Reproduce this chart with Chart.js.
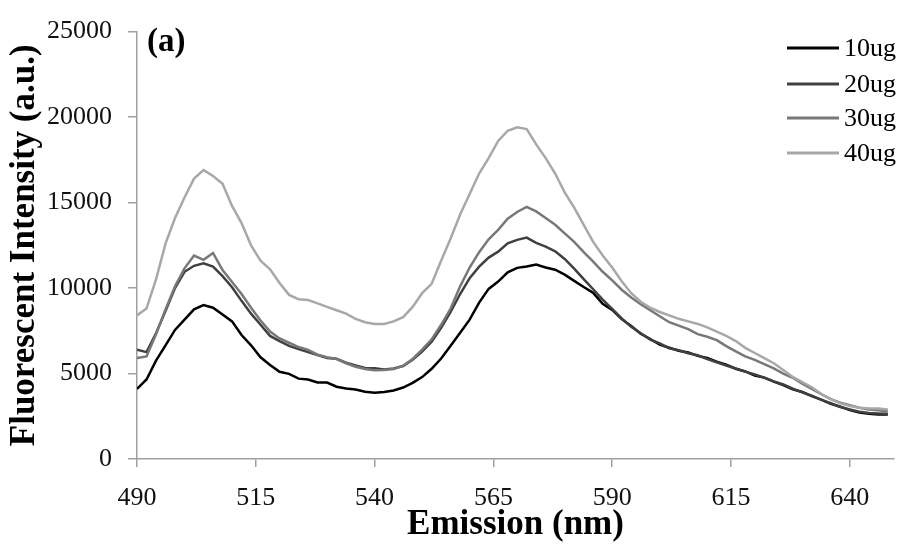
<!DOCTYPE html>
<html>
<head>
<meta charset="utf-8">
<script src="https://cdn.jsdelivr.net/npm/chart.js@4.4.0/dist/chart.umd.min.js"></script>
<style>
  html, body { margin: 0; padding: 0; background: #ffffff; }
  #wrap { width: 904px; height: 546px; position: relative; }
</style>
</head>
<body>
<div id="wrap"><canvas id="c" width="904" height="546"></canvas></div>
<script>
// ---- Data ----
const wavelengths = [490,492,494,496,498,500,502,504,506,508,510,512,514,516,518,520,522,524,526,528,
  530,532,534,536,538,540,542,544,546,548,550,552,554,556,558,560,562,564,566,568,
  570,572,574,576,578,580,582,584,586,588,590,592,594,596,598,600,602,604,606,608,
  610,612,614,616,618,620,622,624,626,628,630,632,634,636,638,640,642,644,646,648];

const series10ug = [4100,4650,5750,6650,7550,8150,8750,9000,8850,8450,8050,7250,6650,5950,5500,5100,4980,4700,4650,4480,
  4470,4230,4130,4060,3930,3870,3920,4010,4180,4450,4790,5280,5880,6620,7380,8150,9150,9950,10380,10920,
  11180,11260,11380,11200,11070,10780,10420,10060,9720,9080,8720,8180,7780,7330,7020,6690,6510,6330,6230,6030,
  5910,5690,5520,5280,5120,4880,4760,4530,4320,4080,3920,3680,3470,3230,3060,2860,2720,2640,2610,2600];

const series20ug = [6400,6250,7350,8650,10000,10950,11300,11450,11250,10700,10050,9250,8500,7850,7200,6900,6620,6430,6250,6080,
  5900,5860,5640,5470,5330,5310,5240,5300,5440,5800,6280,6860,7680,8600,9650,10580,11250,11780,12130,12620,
  12820,12950,12640,12420,12150,11700,11130,10520,9930,9320,8780,8220,7730,7360,6980,6760,6480,6360,6190,6070,
  5850,5660,5470,5290,5110,4940,4760,4540,4360,4110,3900,3710,3460,3260,3040,2900,2760,2690,2660,2640];

const series30ug = [5900,6000,7300,8750,10100,11150,11900,11650,12050,11050,10350,9650,8850,8100,7450,7050,6800,6550,6380,6100,
  5950,5850,5600,5400,5260,5190,5210,5270,5450,5850,6400,7000,7850,8800,10100,11200,12100,12850,13400,14050,
  14450,14750,14480,14100,13700,13200,12700,12100,11550,10950,10450,9900,9450,9050,8700,8350,8000,7800,7600,7300,
  7150,6950,6600,6300,6000,5800,5550,5300,5000,4750,4400,4100,3800,3500,3300,3150,3000,2900,2850,2800];

const series40ug = [8400,8800,10500,12600,14100,15300,16400,16900,16550,16100,14800,13800,12500,11600,11100,10300,9600,9350,9300,9100,
  8900,8700,8500,8200,8000,7900,7900,8050,8300,8900,9700,10250,11600,12900,14300,15500,16700,17600,18600,19200,
  19400,19300,18400,17600,16700,15600,14700,13700,12700,11900,11200,10400,9700,9200,8850,8600,8400,8200,8050,7900,
  7700,7450,7200,6900,6500,6200,5900,5600,5200,4800,4500,4200,3800,3500,3250,3100,3000,2950,2950,2900];

const seriesNames = ["10ug", "20ug", "30ug", "40ug"];
const xTickValues = [490, 515, 540, 565, 590, 615, 640];
const yTickValues = [0, 5000, 10000, 15000, 20000, 25000];
const panelLabel = "(a)";
const xTitle = "Emission (nm)";
const yTitle = "Fluorescent Intensity (a.u.)";

// ---- Styling ----
const colors = ["#000000", "#404040", "#787878", "#a8a8a8"];
const allSeries = [series10ug, series20ug, series30ug, series40ug];
const serif = "'Liberation Serif', 'Times New Roman', serif";
const axisColor = "#a0a0a0";

const datasets = allSeries.map((vals, i) => ({
  label: seriesNames[i],
  data: wavelengths.map((w, j) => ({ x: w, y: vals[j] })),
  borderColor: colors[i],
  backgroundColor: colors[i],
  borderWidth: 2.5,
  pointRadius: 0,
  tension: 0,
  fill: false
}));
// draw lightest first so black is on top
datasets.reverse();

const overlayPlugin = {
  id: 'overlay',
  afterDraw(chart) {
    const ctx = chart.ctx;
    ctx.save();
    // panel label
    ctx.fillStyle = "#000";
    ctx.font = "bold 33px " + serif;
    ctx.textBaseline = "middle";
    ctx.textAlign = "left";
    ctx.fillText(panelLabel, 147, 42);
    // legend
    const rowsY = [48, 84, 118, 153];
    ctx.font = "26px " + serif;
    seriesNames.forEach((name, i) => {
      ctx.strokeStyle = colors[i];
      ctx.lineWidth = 3;
      ctx.beginPath();
      ctx.moveTo(787, rowsY[i]);
      ctx.lineTo(839, rowsY[i]);
      ctx.stroke();
      ctx.fillStyle = "#000";
      ctx.fillText(name, 844, rowsY[i] + 1);
    });
    ctx.restore();
  }
};

new Chart(document.getElementById('c'), {
  type: 'line',
  data: { datasets },
  plugins: [overlayPlugin],
  options: {
    responsive: false,
    animation: false,
    devicePixelRatio: 1,
    layout: { padding: { top: 24, right: 10, left: 0, bottom: 0 } },
    plugins: { legend: { display: false }, tooltip: { enabled: false } },
    scales: {
      x: {
        type: 'linear',
        min: 490,
        max: 649.3,
        afterFit(scale) { scale.height = 87; },
        afterBuildTicks(scale) { scale.ticks = xTickValues.map(v => ({ value: v })); },
        grid: { drawOnChartArea: false, drawTicks: true, tickLength: 8, color: axisColor, lineWidth: 1.5 },
        border: { color: axisColor, width: 1.5 },
        ticks: { color: "#111", font: { family: serif, size: 26 }, padding: 16, maxRotation: 0, autoSkip: false,
                 callback: (v) => String(v) },
        title: { display: true, text: xTitle, color: "#000", font: { family: serif, size: 35, weight: 'bold' }, padding: { top: 0, bottom: 0 } }
      },
      y: {
        type: 'linear',
        min: 0,
        max: 25000,
        afterFit(scale) { scale.width = 137; },
        afterBuildTicks(scale) { scale.ticks = yTickValues.map(v => ({ value: v })); },
        grid: { drawOnChartArea: false, drawTicks: true, tickLength: 9, color: axisColor, lineWidth: 1.5 },
        border: { color: axisColor, width: 1.5 },
        ticks: { color: "#111", font: { family: serif, size: 26 }, padding: 16, callback: (v) => String(v) },
        title: { display: true, text: yTitle, color: "#000", font: { family: serif, size: 35, weight: 'bold' }, padding: { top: 4, bottom: 0 } }
      }
    }
  }
});
</script>
</body>
</html>
